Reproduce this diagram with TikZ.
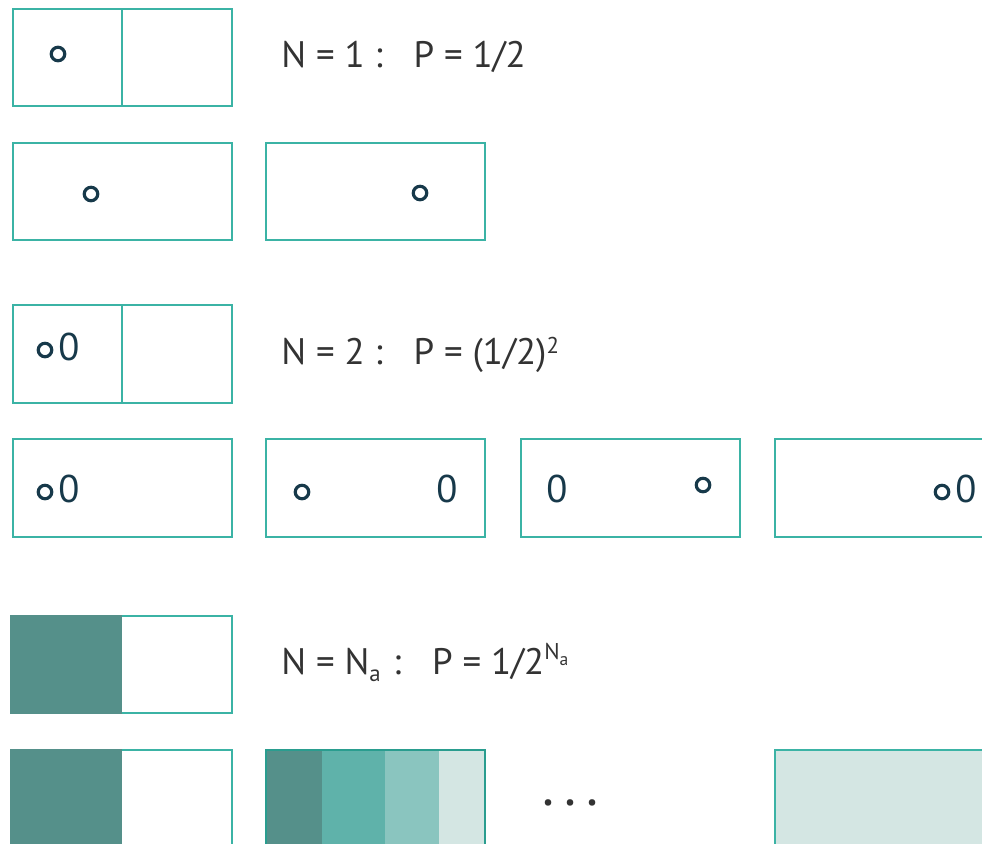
\documentclass[tikz,border=0pt]{standalone}
\usepackage{fontspec}
\setmainfont{PT Sans}
\usetikzlibrary{positioning}
\definecolor{cBorder}{HTML}{3BB3A5}
\definecolor{cBorderDk}{HTML}{2A9D8F}
\definecolor{cInk}{HTML}{17394A}
\definecolor{cText}{HTML}{333333}
\definecolor{cFillA}{HTML}{55908A}
\definecolor{cFillB}{HTML}{5FB2AA}
\definecolor{cFillC}{HTML}{8AC5BF}
\definecolor{cFillD}{HTML}{D4E6E3}
\tikzset{
  every picture/.style={line width=1.6pt},
  sbox/.style={draw=cBorder},
  sgrain/.style={circle, draw=cInk, line width=1.8pt, inner sep=0pt, minimum size=0.27cm},
  szero/.style={text=cInk, font=\fontsize{22}{22}\selectfont, inner sep=0pt},
  slabel/.style={anchor=base west, text=cText, font=\fontsize{21}{21}\selectfont, inner sep=0pt},
  sdots/.style={text=cText, font=\fontsize{32}{32}\selectfont, inner sep=0pt},
}
\newcommand{\gap}{\hspace{0.62cm}}
\newcommand{\smallidx}{\fontsize{13}{13}\selectfont}
\newcommand{\tinyidx}{\fontsize{10}{10}\selectfont}

\begin{document}
\begin{tikzpicture}[x=0.02cm, y=-0.02cm]
\clip (0,0) rectangle (982,843);
% N = 1
\draw[sbox] (13,9) rectangle (232,106); \draw[sbox] (122,9) -- (122,106);
\node[sgrain] (g1) at (58,54) {};
\node[slabel] (l1) at (280,67) {N = 1 :\gap P = 1/2};
\draw[sbox] (13,143) rectangle (232,240); \draw[sbox] (266,143) rectangle (485,240);
\node[sgrain] (g2a) at (91,194) {}; \node[sgrain] (g2b) at (420,193) {};
% N = 2
\draw[sbox] (13,305) rectangle (232,403); \draw[sbox] (122,305) -- (122,403);
\node[sgrain] (g3) at (45,350) {}; \node[szero, right=2pt of g3, yshift=2pt] (z3) {0};
\node[slabel] (l2) at (280,364) {N = 2 :\gap P = (1/2)\raisebox{6pt}{\smallidx 2}};
\foreach \x in {13,266,521,775} \draw[sbox] (\x,439) rectangle ++(219,98);
\node[sgrain] (g4a) at (45,492) {}; \node[szero, right=2pt of g4a, yshift=2pt] (z4a) {0};
\node[sgrain] (g4b) at (302,492) {}; \node[szero] (z4b) at (447,489) {0};
\node[szero] (z4c) at (557,489) {0}; \node[sgrain] (g4c) at (703,485) {};
\node[sgrain] (g4d) at (942,492) {}; \node[szero, right=2pt of g4d, yshift=2pt] (z4d) {0};
% N = N_a
\draw[sbox] (13,616) rectangle (232,713); \fill[cFillA] (10,615) rectangle (122,714);
\node[slabel] (l3) at (280,674) {N = N\raisebox{-4pt}{\smallidx a}\,\,:\gap P = 1/2\raisebox{8pt}{\smallidx N\raisebox{-3pt}{\tinyidx a}}};
\draw[sbox] (13,750) rectangle (232,860); \fill[cFillA] (10,749) rectangle (122,860);
\fill[cFillA] (266,750) rectangle (322,860); \fill[cFillB] (322,750) rectangle (385,860);
\fill[cFillC] (385,750) rectangle (439,860); \fill[cFillD] (439,750) rectangle (485,860);
\draw[cBorderDk] (266,750) rectangle (485,860);
\node[sdots] (dots) at (571,803) {.\hspace{0.2cm}.\hspace{0.2cm}.};
\draw[sbox, fill=cFillD] (775,750) rectangle (1000,860);
\end{tikzpicture}
\end{document}
